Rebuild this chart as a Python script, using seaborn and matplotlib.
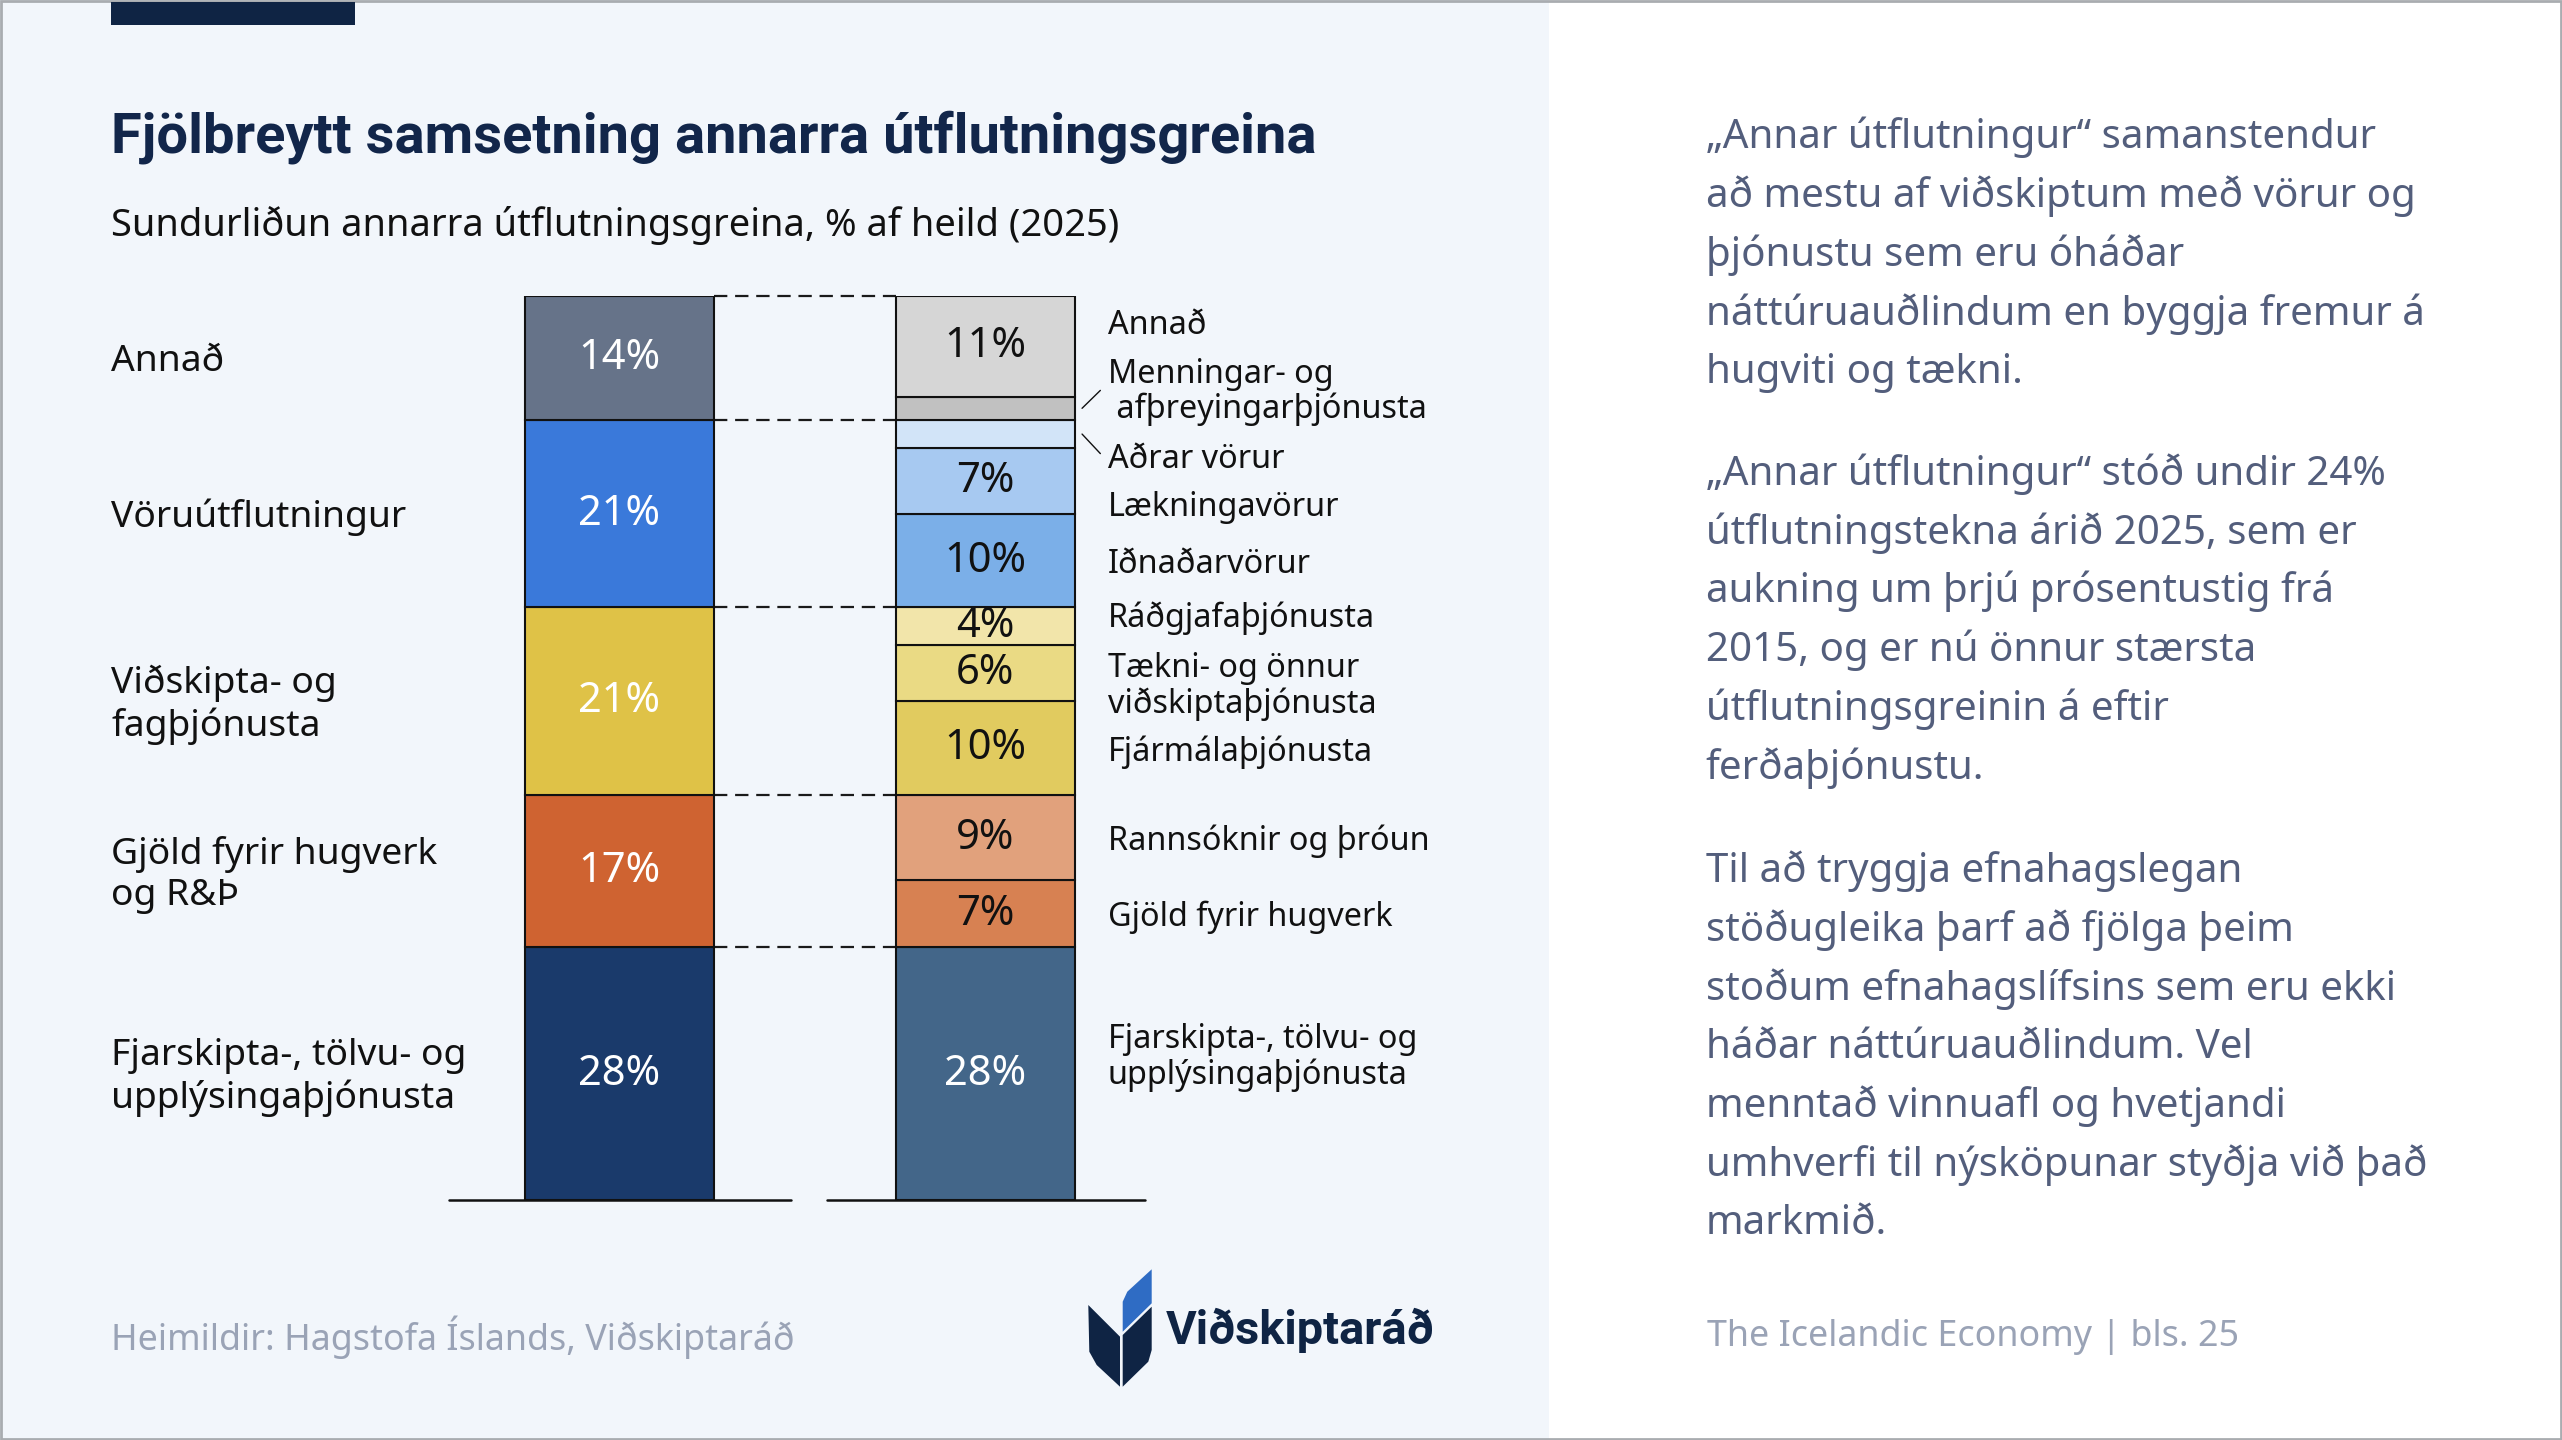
import matplotlib
matplotlib.use("Agg")
import matplotlib.pyplot as plt
import matplotlib.transforms as mtransforms
from matplotlib.patches import Rectangle, Polygon
import seaborn as sns
import pandas as pd

# ---------------- data ----------------
left_categories = ["Fjarskipta-, tölvu- og\nupplýsingaþjónusta", "Gjöld fyrir hugverk\nog R&Þ",
                   "Viðskipta- og\nfagþjónusta", "Vöruútflutningur", "Annað"]
left_values = [28.0, 16.8, 20.8, 20.7, 13.7]
left_colors = ["#1a3a6b", "#cf6331", "#dfc247", "#3a79da", "#667389"]

right_categories = ["Fjarskipta-, tölvu- og\nupplýsingaþjónusta", "Gjöld fyrir hugverk", "Rannsóknir og þróun",
                    "Fjármálaþjónusta", "Tækni- og önnur\nviðskiptaþjónusta", "Ráðgjafaþjónusta",
                    "Iðnaðarvörur", "Lækningavörur", "Aðrar vörur", "Menningar- og\n afþreyingarþjónusta", "Annað"]
right_values = [28.0, 7.4, 9.4, 10.4, 6.2, 4.2, 10.3, 7.3, 3.1, 2.6, 11.1]
right_colors = ["#436689", "#d78152", "#e1a17c", "#e1cb5f", "#eada84", "#f2e5aa",
                "#7bafe8", "#a7c9f1", "#d2e4f8", "#c1c1c1", "#d6d6d6"]
right_show_value = [True, True, True, True, True, True, True, True, False, False, True]
right_text_colors = ["white"] + ["#111111"] * 10
# manual label nudges (in % units) for the right-hand labels
right_label_nudge = [2.2, 0, 0, 0, -1.1, 1.3, 0, -2.5, -2.4, 2.2, 2.7]

bar_names = ["Heild", "Sundurliðun"]

title = "Fjölbreytt samsetning annarra útflutningsgreina"
subtitle = "Sundurliðun annarra útflutningsgreina, % af heild (2025)"
paragraphs = [
    ["„Annar útflutningur“ samanstendur", "að mestu af viðskiptum með vörur og",
     "þjónustu sem eru óháðar", "náttúruauðlindum en byggja fremur á", "hugviti og tækni."],
    ["„Annar útflutningur“ stóð undir 24%", "útflutningstekna árið 2025, sem er",
     "aukning um þrjú prósentustig frá", "2015, og er nú önnur stærsta",
     "útflutningsgreinin á eftir", "ferðaþjónustu."],
    ["Til að tryggja efnahagslegan", "stöðugleika þarf að fjölga þeim",
     "stoðum efnahagslífsins sem eru ekki", "háðar náttúruauðlindum. Vel",
     "menntað vinnuafl og hvetjandi", "umhverfi til nýsköpunar styðja við það", "markmið."],
]
source = "Heimildir: Hagstofa Íslands, Viðskiptaráð"
footer_right = "The Icelandic Economy | bls. 25"
logo_text = "Viðskiptaráð"

# ---------------- style ----------------
sns.set_theme(style="white")
plt.rcParams["font.family"] = ["Noto Sans", "DejaVu Sans"]
bold_font = ["Roboto", "DejaVu Sans"]

W, H = 1568.0, 881.0  # layout reference grid
def X(x): return x / W
def Y(y): return 1 - y / H

fig = plt.figure(figsize=(25.62, 14.4), dpi=100)
fig.patch.set_facecolor("white")
# panels
fig.patches.append(Rectangle((0, 0), X(948), 1, transform=fig.transFigure, facecolor="#f2f6fb",
                             edgecolor="none", zorder=-5))
fig.patches.append(Rectangle((0.0004, 0.001), 0.9992, 0.998, transform=fig.transFigure, facecolor="none",
                             edgecolor="#a9acb0", linewidth=2.0, zorder=5))
fig.patches.append(Rectangle((111 / 2562, 1 - 25 / 1440), 244 / 2562, 23 / 1440, transform=fig.transFigure,
                             facecolor="#0f2444", edgecolor="none", zorder=6))

navy = "#12264a"
fig.text(X(68), Y(84), title, fontsize=40.4, fontweight="bold", family=bold_font, color=navy,
         va="center", ha="left")
fig.text(X(68), Y(138), subtitle, fontsize=27.4, color="#111111", va="center", ha="left")

# ---------------- chart ----------------
ax = fig.add_axes([X(275), Y(734.4), X(701) - X(275), (734.4 - 181.2) / H])
ax.set_facecolor("none")
ax.set_zorder(2)

left_w, right_w = 0.517, 0.489
edge_lw = 1.5
value_fs = 30
label_drop = 0.4  # small downward optical shift for category labels (in % units)

bottom = 0.0
left_bounds = [0.0]
trans = mtransforms.blended_transform_factory(fig.transFigure, ax.transData)
for cat, v, c in zip(left_categories, left_values, left_colors):
    sns.barplot(x=[bar_names[0]], y=[v], order=bar_names, bottom=bottom, width=left_w, color=c,
                saturation=1, errorbar=None, edgecolor="#111111", linewidth=edge_lw, ax=ax, zorder=3)
    ax.text(0, bottom + v / 2, f"{v:.0f}%", ha="center", va="center", color="white", fontsize=value_fs, zorder=4)
    ax.text(X(68), bottom + v / 2 - label_drop, cat, transform=trans, ha="left", va="center", fontsize=26.8,
            color="#111111", linespacing=1.2, clip_on=False)
    bottom += v
    left_bounds.append(bottom)

bottom = 0.0
for cat, v, c, show, tc, nudge in zip(right_categories, right_values, right_colors, right_show_value,
                                      right_text_colors, right_label_nudge):
    sns.barplot(x=[bar_names[1]], y=[v], order=bar_names, bottom=bottom, width=right_w, color=c,
                saturation=1, errorbar=None, edgecolor="#111111", linewidth=edge_lw, ax=ax, zorder=3)
    mid = bottom + v / 2
    if show:
        ax.text(1, mid, f"{v:.0f}%", ha="center", va="center", color=tc, fontsize=value_fs, zorder=4)
    ax.text(X(678), mid + nudge - label_drop, cat, transform=trans, ha="left", va="center", fontsize=23.3,
            color="#111111", linespacing=1.08, clip_on=False)
    if not show:
        x0 = 1 + right_w / 2 + 0.02
        ax.plot([x0, x0 + 0.05], [mid, mid + nudge * 0.9], color="#111111", lw=1.0, clip_on=False)
    bottom += v
total = bottom

# dashed connectors between bars
for b in left_bounds[1:]:
    ax.plot([left_w / 2, 1 - right_w / 2], [b, b], color="#1a1a1a", lw=1.6, ls=(0, (6, 3.5)),
            zorder=2, clip_on=False)
# baselines
ax.plot([-0.464, 0.469], [0, 0], color="#111111", lw=1.8, zorder=5, clip_on=False)
ax.plot([0.567, 1.4375], [0, 0], color="#111111", lw=1.8, zorder=5, clip_on=False)

ax.set_xlim(-0.464, 1.4375)
ax.set_ylim(0, total)
ax.set_xlabel("")
ax.set_ylabel("")
ax.set_xticks([])
ax.set_yticks([])
sns.despine(ax=ax, left=True, bottom=True)

# ---------------- right column text ----------------
body_color = "#535e7c"
starts = [84, 290, 533]
for start, lines in zip(starts, paragraphs):
    for i, line in enumerate(lines):
        fig.text(X(1044), Y(start + 36 * i), line, fontsize=29.0, color=body_color, ha="left", va="center")

# ---------------- footer ----------------
foot_color = "#9aa3b6"
fig.text(X(68), Y(818), source, fontsize=25.8, color=foot_color, ha="left", va="center")
fig.text(X(1045), Y(818), footer_right, fontsize=25.8, color=foot_color, ha="left", va="center")

def P(pts):
    return [(x / 2562, 1 - y / 1440) for x, y in pts]
logo_navy = "#0f2444"
fig.patches.append(Polygon(P([(1088.3, 1305), (1120, 1336.7), (1120, 1386.7), (1096.7, 1365), (1089.3, 1351.7)]),
                           closed=True, transform=fig.transFigure, facecolor=logo_navy, edgecolor="none", zorder=6))
fig.patches.append(Polygon(P([(1122.7, 1335), (1151.7, 1306.7), (1151.7, 1350), (1148.3, 1361.7), (1122.7, 1386.7)]),
                           closed=True, transform=fig.transFigure, facecolor=logo_navy, edgecolor="none", zorder=6))
fig.patches.append(Polygon(P([(1122.7, 1331.7), (1122.7, 1301.7), (1127.3, 1291.7), (1151.7, 1269.3), (1151.7, 1303.3)]),
                           closed=True, transform=fig.transFigure, facecolor="#2f6cc4", edgecolor="none", zorder=6))
fig.text(1166 / 2562, 1 - 1330 / 1440, logo_text, fontsize=33.8, fontweight="bold", family=bold_font,
         color=logo_navy, ha="left", va="center")

fig.savefig("out.png", dpi=100, facecolor=fig.get_facecolor())
